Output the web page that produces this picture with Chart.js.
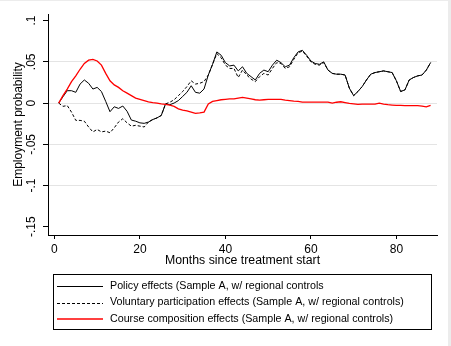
<!DOCTYPE html>
<html>
<head>
<meta charset="utf-8">
<script src="https://cdn.jsdelivr.net/npm/chart.js@4"></script>
<style>
  html, body { margin: 0; padding: 0; background: #fff; }
  #wrap { width: 451px; height: 346px; }
</style>
</head>
<body>
<div id="wrap"><canvas id="effectsChart" width="451" height="346"></canvas></div>
<script>
const months = [1,2,3,4,5,6,7,8,9,10,11,12,13,14,15,16,17,18,19,20,21,22,23,24,25,26,27,28,29,30,
  31,32,33,34,35,36,37,38,39,40,41,42,43,44,45,46,47,48,49,50,51,52,53,54,55,56,57,58,59,60,
  61,62,63,64,65,66,67,68,69,70,71,72,73,74,75,76,77,78,79,80,81,82,83,84,85,86,87,88];

const policyEffects = [0, .0076, .015, .015, .013, .023, .028, .024, .017, .019,
  .014, .002, -.0105, -.0045, -.0065, -.0036, -.010, -.0206, -.022, -.024,
  -.0246, -.023, -.020, -.018, -.015, -.001, -.002, 0, .003, .008,
  .013, .021, .013, .012, .017, .034, .047, .062, .058, .049,
  .045, .046, .039, .044, .036, .032, .028, .036, .040, .038,
  .046, .052, .049, .044, .046, .055, .062, .064, .058, .051,
  .048, .047, .050, .040, .036, .035, .035, .034, .018, .009,
  .014, .020, .028, .035, .037, .038, .039, .038, .037, .027,
  .014, .016, .028, .031, .033, .034, .040, .049];

const voluntaryEffects = [0, -.004, -.003, -.011, -.021, -.021, -.022, -.029, -.035, -.032,
  -.035, -.034, -.036, -.030, -.023, -.019, -.024, -.028, -.027, -.028,
  -.029, -.023, -.020, -.018, -.015, -.001, .001, .004, .009, .014,
  .020, .027, .023, .024, .026, .034, .047, .060, .055, .046,
  .042, .042, .031, .040, .034, .029, .026, .032, .036, .034,
  .042, .049, .048, .042, .044, .053, .061, .063, .057, .050,
  .047, .046, .049, .040, .036, .035, .035, .034, .018, .009,
  .014, .020, .028, .035, .037, .038, .039, .038, .037, .027,
  .014, .016, .028, .031, .033, .034, .040, .049];

const courseEffects = [0, .009, .017, .026, .033, .041, .048, .052, .053, .051,
  .046, .036, .027, .022, .019, .015, .012, .009, .006, .0045,
  .003, .0015, .0005, 0, -.001, -.0015, -.0025, -.004, -.007, -.0085,
  -.0095, -.011, -.0125, -.012, -.011, -.001, .002, .003, .004, .0045,
  .005, .005, .006, .007, .006, .005, .004, .0036, .004, .0045,
  .0045, .0045, .0045, .0036, .003, .0024, .002, .0012, .0012, .0012,
  .0012, .0012, .0012, .0012, 0, .001, .0016, .0006, -.0004, -.001,
  -.0016, -.0014, -.0014, -.0014, -.0014, 0, -.0012, -.002, -.0024, -.0028,
  -.0028, -.003, -.003, -.003, -.003, -.0036, -.0045, -.0028];

const xTicks = [0, 20, 40, 60, 80];
const yTicks = [-.15, -.1, -.05, 0, .05, .1];

const seriesLabels = [
  'Policy effects (Sample A, w/ regional controls',
  'Voluntary participation effects (Sample A, w/ regional controls)',
  'Course composition effects (Sample A, w/ regional controls)'
];
const seriesColors = ['#000000', '#000000', '#ff0000'];
const seriesWidths = [1, 1, 1.3];

const FONT = '"Liberation Sans", Arial, sans-serif';

function toPoints(vals) {
  return months.map((m, i) => ({ x: m, y: vals[i] }));
}

function fmtY(v) {
  if (Math.abs(v) < 1e-9) return '0';
  let s = String(Math.round(v * 100) / 100);
  return s.replace('0.', '.');
}

// stata-style boxed legend under the plot
const boxLegend = {
  id: 'boxLegend',
  beforeDraw(chart) {
    const c = chart.ctx;
    c.save();
    c.fillStyle = '#fff';
    c.fillRect(0, 0, chart.width, chart.height);
    c.fillStyle = '#ececec';
    c.fillRect(0, 0, chart.width, 1);
    c.fillRect(chart.width - 3, 0, 3, chart.height);
    c.restore();
  },
  afterDraw(chart) {
    const c = chart.ctx;
    const left = 53.5, top = 274.5, w = 378, h = 55;
    const rows = [286, 302.5, 319];
    c.save();
    c.lineWidth = 1;
    c.strokeStyle = '#000';
    c.strokeRect(left, top, w, h);
    for (let i = 0; i < seriesLabels.length; i++) {
      const ds = chart.data.datasets[i];
      // red sample gets a slightly heavier stroke so it keeps its colour
      const y = i === 2 ? Math.round(rows[i]) : Math.round(rows[i]) + 0.5;
      c.beginPath();
      c.setLineDash(i === 1 ? [3, 2] : []);
      c.strokeStyle = seriesColors[i];
      c.lineWidth = i === 2 ? 1.6 : 1;
      c.moveTo(57, y);
      c.lineTo(103, y);
      c.stroke();
      c.setLineDash([]);
      c.fillStyle = '#000';
      c.font = '10.7px ' + FONT;
      c.textBaseline = 'middle';
      c.textAlign = 'left';
      c.fillText(ds.label, 110, rows[i]);
    }
    c.restore();
  }
};

const ctx = document.getElementById('effectsChart').getContext('2d');
const chart = new Chart(ctx, {
  type: 'line',
  data: {
    datasets: [
      {
        label: seriesLabels[0],
        data: toPoints(policyEffects),
        borderColor: seriesColors[0],
        borderWidth: seriesWidths[0],
        order: 2
      },
      {
        label: seriesLabels[1],
        data: toPoints(voluntaryEffects),
        borderColor: seriesColors[1],
        borderWidth: seriesWidths[1],
        borderDash: [3, 2],
        order: 1
      },
      {
        label: seriesLabels[2],
        data: toPoints(courseEffects),
        borderColor: seriesColors[2],
        borderWidth: seriesWidths[2],
        order: 0
      }
    ]
  },
  options: {
    responsive: false,
    animation: false,
    layout: { padding: { left: 0, right: 14, top: 14, bottom: 78 } },
    elements: {
      point: { radius: 0, hoverRadius: 0 },
      line: { tension: 0, fill: false }
    },
    scales: {
      x: {
        type: 'linear',
        min: -1.5,
        max: 89.5,
        afterBuildTicks: axis => { axis.ticks = xTicks.map(v => ({ value: v })); },
        afterFit: axis => { axis.height = 33; },
        border: { display: true, color: '#000', width: 1 },
        grid: { drawOnChartArea: false, drawTicks: true, tickLength: 4, tickColor: '#000' },
        ticks: { color: '#000', padding: 3, font: { family: FONT, size: 12 }, maxRotation: 0 },
        title: {
          display: true,
          text: 'Months since treatment start',
          color: '#000',
          font: { family: FONT, size: 12.3 },
          padding: { top: 0, bottom: 0 }
        }
      },
      y: {
        min: -0.16,
        max: 0.108,
        afterBuildTicks: axis => { axis.ticks = yTicks.map(v => ({ value: v })); },
        afterFit: axis => { axis.width = 48; },
        border: { display: true, color: '#000', width: 1 },
        grid: {
          drawTicks: true,
          tickLength: 5,
          tickColor: '#000',
          color: c => (c.index === 0 || c.index === yTicks.length - 1) ? 'rgba(0,0,0,0)' : '#e4e4e4'
        },
        ticks: {
          color: '#000',
          padding: 1,
          minRotation: 90,
          maxRotation: 90,
          crossAlign: 'center',
          font: { family: FONT, size: 12 },
          callback: v => fmtY(v)
        },
        title: {
          display: true,
          text: 'Employment probability',
          color: '#000',
          font: { family: FONT, size: 12 },
          padding: { top: 11, bottom: 0 }
        }
      }
    },
    plugins: {
      legend: { display: false },
      tooltip: { enabled: false }
    }
  },
  plugins: [boxLegend]
});
</script>
</body>
</html>
